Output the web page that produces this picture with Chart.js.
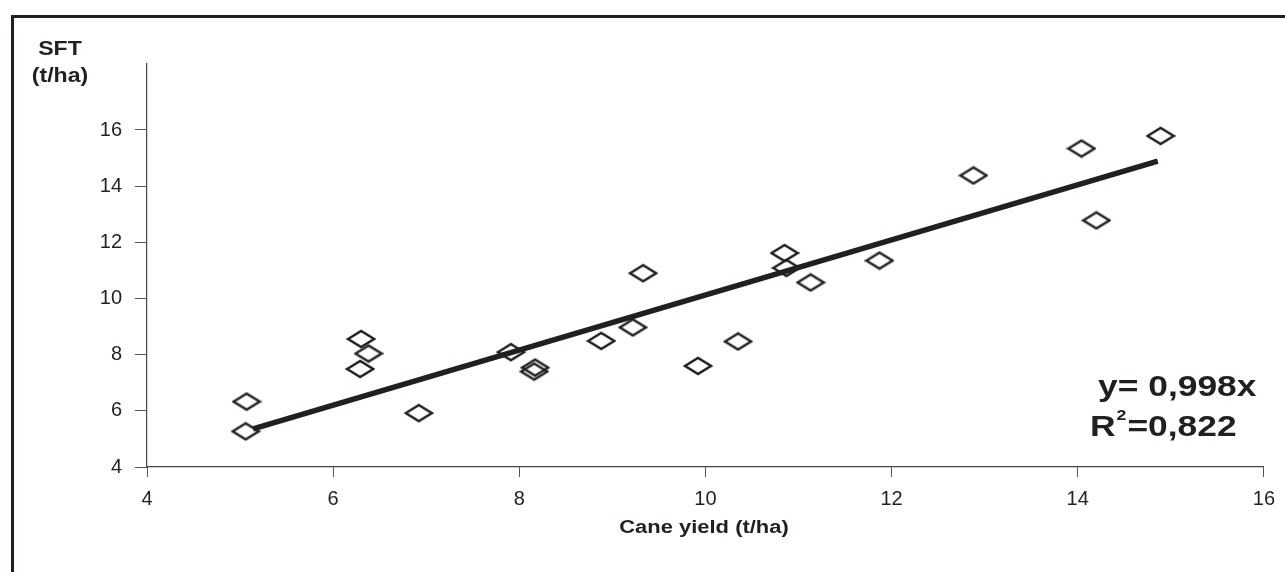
<!DOCTYPE html>
<html lang="en">
<head>
  <meta charset="UTF-8">
  <title>SFT vs Cane yield</title>
  <script src="https://cdn.jsdelivr.net/npm/chart.js"></script>
  <style>
    body {
      margin: 0;
      padding: 0;
      background: #ffffff;
      overflow: hidden;
    }
    #wrap {
      position: relative;
      width: 1285px;
      height: 572px;
    }
    #frame {
      position: absolute;
      left: 11px;
      top: 15px;
      width: 1290px;
      height: 600px;
      border-top: 3px solid #231f20;
      border-left: 3px solid #231f20;
      pointer-events: none;
    }
  </style>
</head>
<body>
  <div id="wrap">
    <canvas id="chart"></canvas>
    <div id="frame"></div>
  </div>

  <script>
    // values
    const caneYield = [5.07, 5.06, 6.30, 6.38, 6.29, 6.92, 7.91, 8.17, 8.16, 8.88, 9.22,
                       9.33, 9.92, 10.35, 10.85, 10.87, 11.13, 11.87, 12.88, 14.04, 14.20, 14.89];
    const sft = [6.33, 5.27, 8.56, 8.04, 7.49, 5.92, 8.09, 7.54, 7.40, 8.49, 8.97,
                 10.90, 7.60, 8.47, 11.62, 11.09, 10.57, 11.35, 14.38, 15.34, 12.78, 15.79];
    const trendX = [5.14, 14.86];
    const trendY = [5.36, 14.89];
    const xTicks = [4, 6, 8, 10, 12, 14, 16];
    const yTicks = [4, 6, 8, 10, 12, 14, 16];
    const xTitle = 'Cane yield (t/ha)';
    const yTitle = ['SFT', '(t/ha)'];
    const eqLine = 'y= 0,998x';
    const r2Value = '=0,822';

    const ink = '#231f20';
    const fam = '"Liberation Sans", Arial, sans-serif';
    Chart.defaults.font.family = fam;
    Chart.defaults.color = ink;

    // flattened open diamond marker
    function diamond(w, h) {
      const c = document.createElement('canvas');
      c.width = w + 4;
      c.height = h + 4;
      const g = c.getContext('2d');
      g.strokeStyle = ink;
      g.lineWidth = 2.4;
      g.beginPath();
      g.moveTo(2, h / 2 + 2);
      g.lineTo(w / 2 + 2, 2);
      g.lineTo(w + 2, h / 2 + 2);
      g.lineTo(w / 2 + 2, h + 2);
      g.closePath();
      g.stroke();
      return c;
    }
    const marker = diamond(26, 16);

    // text is a bit wider in the source figure, so stretch horizontally
    function wideText(ctx, txt, x, y, font, sx, align) {
      ctx.save();
      ctx.font = font;
      const w = ctx.measureText(txt).width * sx;
      let left = x;
      if (align === 'center') left = x - w / 2;
      ctx.translate(left, y);
      ctx.scale(sx, 1);
      ctx.textAlign = 'left';
      ctx.fillText(txt, 0, 0);
      ctx.restore();
      return left + w;
    }

    const textPlugin = {
      id: 'texts',
      afterDraw(chart) {
        const ctx = chart.ctx;
        ctx.save();
        ctx.fillStyle = ink;
        ctx.textBaseline = 'alphabetic';
        wideText(ctx, yTitle[0], 60, 55, 'bold 21px ' + fam, 1.1, 'center');
        wideText(ctx, yTitle[1], 60, 82, 'bold 21px ' + fam, 1.1, 'center');

        wideText(ctx, xTitle, 704, 533, 'bold 18px ' + fam, 1.22, 'center');

        wideText(ctx, eqLine, 1098, 396, 'bold 30px ' + fam, 1.18, 'left');
        let x = wideText(ctx, 'R', 1090, 436, 'bold 30px ' + fam, 1.18, 'left');
        x = wideText(ctx, '2', x + 1, 420, 'bold 15px ' + fam, 1.18, 'left');
        wideText(ctx, r2Value, x + 1, 436, 'bold 30px ' + fam, 1.18, 'left');
        ctx.restore();
      }
    };

    new Chart(document.getElementById('chart'), {
      type: 'scatter',
      data: {
        datasets: [
          {
            type: 'line',
            label: 'trend',
            data: trendX.map((x, i) => ({ x: x, y: trendY[i] })),
            borderColor: ink,
            borderWidth: 5.5,
            borderCapStyle: 'butt',
            pointRadius: 0,
            fill: false,
            order: 0
          },
          {
            label: 'SFT',
            data: caneYield.map((x, i) => ({ x: x, y: sft[i] })),
            pointStyle: marker,
            pointRadius: 10,
            order: 1
          }
        ]
      },
      options: {
        responsive: true,
        maintainAspectRatio: false,
        animation: false,
        layout: { padding: { left: 0, top: 64, right: 19, bottom: 0 } },
        plugins: {
          legend: { display: false },
          tooltip: { enabled: false }
        },
        scales: {
          x: {
            type: 'linear',
            min: 4,
            max: 16,
            afterBuildTicks: s => { s.ticks = xTicks.map(v => ({ value: v })); },
            afterFit: s => { s.height = 105; },
            grid: { drawOnChartArea: false, tickLength: 10, color: '#555', lineWidth: 1 },
            border: { color: '#444', width: 1.2 },
            ticks: { font: { size: 20 }, padding: 10, color: ink, maxRotation: 0 }
          },
          y: {
            type: 'linear',
            min: 4,
            max: 18.35,
            afterBuildTicks: s => { s.ticks = yTicks.map(v => ({ value: v })); },
            afterFit: s => { s.width = 147; },
            grid: { drawOnChartArea: false, tickLength: 12, color: '#555', lineWidth: 1 },
            border: { color: '#444', width: 1.2 },
            ticks: { font: { size: 20 }, padding: 13, color: ink }
          }
        }
      },
      plugins: [textPlugin]
    });
  </script>
</body>
</html>
